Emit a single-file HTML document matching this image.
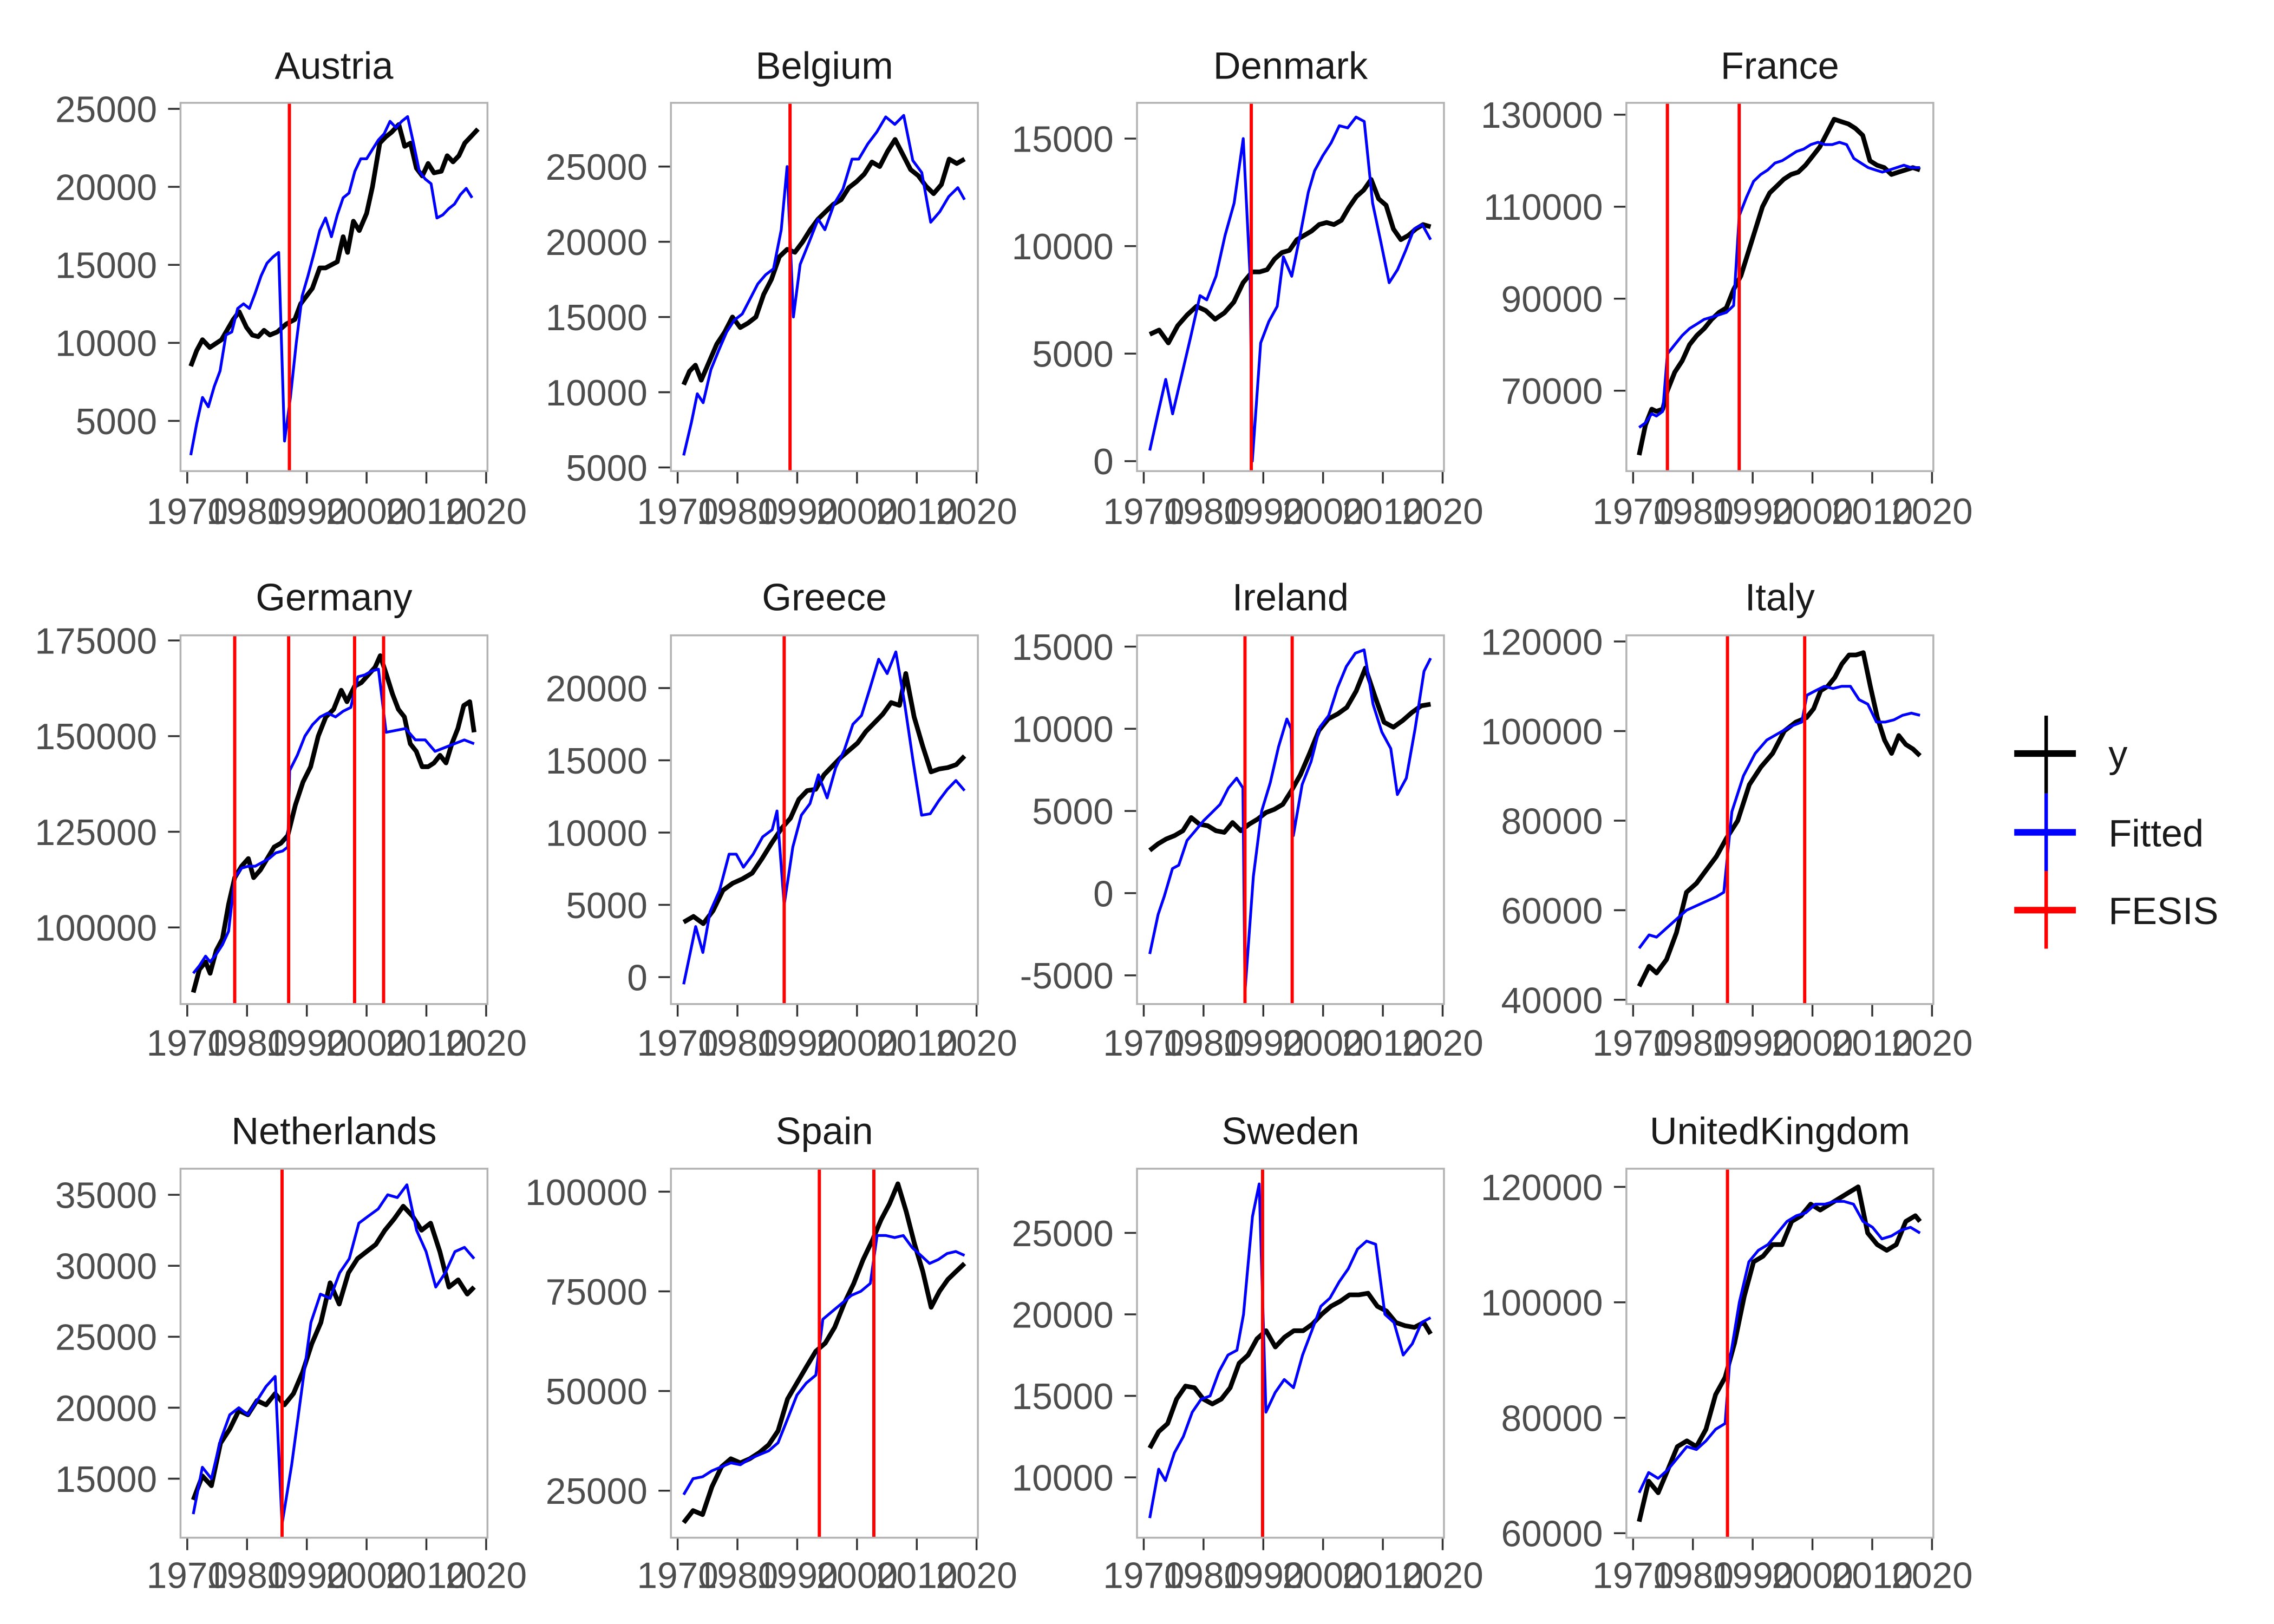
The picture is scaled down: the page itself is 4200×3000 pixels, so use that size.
<!DOCTYPE html>
<html><head><meta charset="utf-8"><style>
html,body{margin:0;padding:0;background:#fff}
svg{display:block}
</style></head><body>
<svg id="c" xmlns="http://www.w3.org/2000/svg" width="4200" height="3000" viewBox="0 0 1552 1108.6" preserveAspectRatio="none"></svg>
<script>
var cols=[123.2,457.9,776,1110], W=209.5;
var rows=[[70.2,321.6,53.7,357.7],[433.7,685.4,416.7,720.6],[797.8,1049.7,781,1084]];
var P=[
{n:"Austria",c:0,r:0,t:[5000,25000,5000],m:[25000,74.3,5000,287.3],v:[74.3],a:[],
y:[[7,8500],[11,9500],[15,10200],[20,9700],[28,10200],[36,11500],[40,12000],[45,11000],[49,10500],[53,10400],[57,10800],[61,10500],[66,10700],[72,11200],[78,11500],[82,12500],[86,13000],[90,13500],[95,14800],[99,14800],[103,15000],[107,15200],[111,16800],[114,15800],[118,17800],[122,17200],[127,18300],[131,20000],[136,22800],[140,23200],[144,23500],[149,24000],[153,22600],[157,22800],[161,21200],[165,20700],[169,21500],[173,20900],[178,21000],[182,22000],[186,21600],[190,22000],[194,22800],[199,23300],[203,23700]],
f:[[7,2800],[11,4800],[15,6500],[19,5900],[23,7200],[27,8200],[31,10500],[35,10700],[39,12200],[43,12500],[47,12200],[51,13200],[55,14300],[59,15100],[63,15500],[67,15800],[71,3700],[75,6500],[79,10000],[83,13000],[87,14300],[91,15700],[95,17200],[99,18000],[103,16800],[107,18200],[111,19300],[115,19600],[119,21000],[123,21800],[127,21800],[131,22400],[135,23000],[139,23400],[143,24200],[147,23800],[151,24200],[155,24500],[159,22800],[163,21000],[167,20500],[171,20200],[175,18000],[179,18200],[183,18600],[187,18900],[191,19500],[195,19900],[199,19300]]},
{n:"Belgium",c:1,r:0,t:[5000,25000,5000],m:[25000,113.7,5000,319.1],v:[81.3],a:[[61.5,81.3]],
y:[[7,10500],[10,11400],[13,11800],[16,10800],[20,12000],[24,13200],[28,14000],[32,15000],[36,14300],[40,14600],[44,15000],[48,16500],[52,17500],[56,19000],[60,19500],[64,19300],[68,20000],[72,20800],[76,21500],[80,22000],[84,22500],[88,22800],[92,23600],[96,24000],[100,24500],[104,25300],[108,25000],[112,26000],[116,26800],[120,25800],[124,24800],[128,24400],[132,23700],[136,23200],[140,23800],[144,25500],[148,25200],[152,25500]],
f:[[7,5800],[11,8000],[14,9900],[17,9300],[21,11500],[25,12800],[29,14000],[33,14800],[37,15200],[41,16200],[45,17200],[49,17800],[53,18200],[57,20800],[60,25000],[63,15000],[66,18500],[70,20000],[74,21500],[77,20800],[81,22500],[85,23500],[89,25500],[92,25500],[96,26500],[100,27300],[104,28300],[108,27800],[112,28400],[116,25400],[120,24600],[124,21300],[128,22000],[132,23000],[136,23600],[139,22800]]},
{n:"Denmark",c:2,r:0,t:[0,15000,5000],m:[15000,94.6,0,314.8],v:[78],a:[[51.5,78]],
y:[[8,5900],[12,6100],[16,5500],[20,6300],[24,6800],[28,7200],[32,7000],[36,6600],[40,6900],[44,7400],[48,8300],[52,8800],[56,8800],[60,8900],[64,9400],[68,9700],[72,9800],[76,10300],[80,10500],[84,10700],[88,11000],[92,11100],[96,11000],[100,11200],[104,11800],[108,12300],[112,12600],[116,13100],[120,12200],[124,11900],[128,10800],[132,10300],[136,10500],[140,10800],[144,11000],[148,10900]],
f:[[7,500],[11,2400],[14,3800],[17,2200],[21,4000],[25,5800],[29,7700],[32,7500],[36,8600],[40,10500],[44,12000],[48,15000],[51,8600],[52,0],[56,5500],[60,6500],[64,7200],[67,9500],[71,8600],[75,10500],[79,12500],[82,13500],[86,14200],[90,14800],[94,15600],[98,15500],[102,16000],[106,15800],[110,12000],[114,10200],[118,8300],[122,8900],[126,9800],[130,10800],[134,11000],[138,10300]]},
{n:"France",c:3,r:0,t:[70000,130000,20000],m:[130000,78.3,70000,266.7],v:[28,77],a:[[25,28],[64,77]],
y:[[7,56000],[11,62500],[15,66000],[18,65500],[22,66000],[25,70000],[29,74000],[33,76500],[37,80000],[41,82000],[45,83500],[49,85500],[53,87000],[57,88000],[61,92000],[65,95000],[69,100000],[73,105000],[77,110000],[81,113000],[85,114500],[89,116000],[93,117000],[97,117500],[101,119000],[105,121000],[109,123000],[113,126000],[117,129000],[121,128500],[125,128000],[129,127000],[133,125500],[137,120000],[141,119000],[145,118500],[149,117000],[153,117500],[157,118000],[161,118500],[165,118000]],
f:[[7,62000],[11,63000],[15,65000],[18,64500],[22,65500],[25,78000],[29,80000],[33,82000],[37,83500],[41,84500],[45,85500],[49,86000],[53,86500],[57,87000],[61,88500],[64,108000],[68,112000],[72,115500],[76,117000],[80,118000],[84,119500],[88,120000],[92,121000],[96,122000],[100,122500],[104,123500],[108,124000],[112,123500],[116,123500],[120,124000],[124,123500],[128,120500],[132,119500],[136,118500],[140,118000],[144,117500],[148,118000],[152,118500],[156,119000],[160,118500],[165,118500]]},
{n:"Germany",c:0,r:1,t:[100000,175000,25000],m:[175000,437.2,100000,633.1],v:[37,73.8,118.8,138.6],a:[[35,37],[66.5,73.8],[101,118.8],[118,138.6]],
y:[[8,83000],[12,89000],[16,91000],[19,88000],[23,94000],[27,97000],[31,106000],[35,113000],[39,116000],[43,118000],[46,113000],[50,115000],[54,118000],[58,121000],[62,122000],[66,124000],[70,132000],[74,138000],[78,142000],[82,150000],[86,155000],[90,157000],[94,162000],[97,159000],[101,163000],[105,164000],[109,166000],[113,168000],[116,171000],[120,166000],[124,161000],[128,157000],[132,155000],[136,148000],[140,146000],[144,142000],[148,142000],[152,143000],[156,145000],[160,143000],[164,148000],[168,152000],[172,158000],[176,159000],[179,151000]],
f:[[8,88000],[12,90000],[16,92500],[19,91000],[23,93000],[27,95500],[31,99000],[35,113000],[39,115500],[43,116000],[47,116000],[51,117000],[55,118000],[59,119500],[63,120000],[66,121000],[67,141000],[71,145000],[75,150000],[79,153000],[83,155000],[87,156000],[91,155000],[95,156500],[99,157500],[103,165500],[107,166000],[111,167000],[115,167500],[119,151000],[123,151500],[127,152000],[131,149000],[135,149000],[139,146000],[143,147000],[147,148000],[151,149000],[155,148000]]},
{n:"Greece",c:1,r:1,t:[0,20000,5000],m:[20000,469.7,0,667],v:[77.3],a:[[48,77.3]],
y:[[7,3800],[11,4200],[15,3700],[19,4600],[23,6000],[27,6500],[31,6800],[35,7200],[39,8200],[43,9300],[47,10300],[51,11000],[55,12300],[59,12900],[63,13000],[67,14000],[71,14600],[75,15200],[79,15700],[83,16200],[87,17000],[91,17600],[95,18200],[99,19000],[103,18800],[106,21000],[110,18000],[114,16000],[118,14200],[122,14400],[126,14500],[130,14700],[134,15300]],
f:[[6,-500],[11,3500],[14,1700],[17,4500],[21,6000],[25,8500],[28,8500],[31,7600],[35,8500],[39,9700],[43,10200],[45,11500],[48,5000],[52,9000],[56,11200],[60,12000],[64,14000],[68,12400],[72,14500],[76,15700],[80,17500],[84,18100],[88,20000],[92,22000],[96,21000],[100,22500],[104,19000],[108,15000],[112,11200],[116,11300],[120,12200],[124,13000],[128,13600],[132,12900]]},
{n:"Ireland",c:2,r:1,t:[-5000,15000,5000],m:[15000,441.4,-5000,665.8],v:[73.7,105.9],a:[[54,73.7],[76.5,105.9]],
y:[[8,2600],[12,3000],[16,3300],[20,3500],[24,3800],[28,4600],[32,4200],[36,4100],[40,3800],[44,3700],[48,4300],[52,3800],[56,4200],[60,4500],[64,4900],[68,5100],[72,5400],[76,6200],[80,7200],[84,8500],[88,9900],[92,10600],[96,10900],[100,11300],[104,12300],[108,13700],[112,12000],[116,10400],[120,10100],[124,10500],[128,11000],[132,11400],[136,11500]],
f:[[8,-3700],[12,-1300],[15,-200],[19,1500],[22,1700],[26,3200],[30,3800],[34,4400],[38,4900],[42,5400],[46,6400],[50,7000],[53,6400],[54,-6000],[58,1000],[62,5000],[66,6700],[70,8900],[74,10600],[76,10000],[77,3500],[81,6600],[85,8000],[89,10100],[93,10800],[97,12500],[101,13800],[105,14600],[109,14800],[113,11500],[117,9800],[121,8800],[124,6000],[128,7000],[132,10000],[136,13500],[139,14300]]},
{n:"Italy",c:3,r:1,t:[40000,120000,20000],m:[120000,437.9,40000,682.5],v:[69,121.7],a:[[42.5,69],[69,121.7]],
y:[[7,43000],[11,47500],[14,46000],[18,49000],[22,55000],[26,64000],[30,66000],[34,69000],[38,72000],[42,76000],[46,80000],[50,88000],[54,92000],[58,95000],[62,100000],[66,102000],[70,103000],[74,105000],[78,109000],[82,110000],[86,112000],[90,115000],[94,117000],[98,117000],[102,117500],[106,110000],[110,103000],[114,98000],[118,95000],[122,99000],[126,97000],[130,96000],[134,94500]],
f:[[7,51500],[11,54500],[14,54000],[18,56000],[22,58000],[26,60000],[30,61000],[34,62000],[38,63000],[41,64000],[44,82000],[48,90000],[52,95000],[56,98000],[60,99500],[64,101000],[68,102000],[70,108000],[74,109000],[78,110000],[82,109500],[86,110000],[90,110000],[94,107000],[98,106000],[102,102000],[106,102000],[110,102500],[114,103500],[118,104000],[122,103500]]},
{n:"Netherlands",c:0,r:2,t:[15000,35000,5000],m:[35000,815.6,15000,1009.4],v:[69.3],a:[[46,69.3]],
y:[[7,13500],[11,15200],[15,14500],[19,17500],[23,18500],[27,19800],[31,19500],[35,20500],[39,20200],[43,21000],[47,20200],[51,21000],[55,22500],[59,24500],[63,26000],[67,28800],[71,27300],[75,29500],[79,30500],[83,31000],[87,31500],[91,32500],[95,33300],[99,34200],[103,33500],[107,32500],[111,33000],[115,31000],[119,28500],[123,29000],[127,28000],[130,28500]],
f:[[7,12500],[11,15800],[15,15000],[19,17700],[23,19500],[27,20000],[31,19500],[35,20500],[39,21500],[43,22200],[46,11800],[50,16000],[54,21000],[58,26000],[62,28000],[66,27700],[70,29500],[74,30500],[78,33000],[82,33500],[86,34000],[90,35000],[94,34800],[98,35700],[102,32500],[106,31000],[110,28500],[114,29500],[118,31000],[122,31300],[126,30500]]},
{n:"Spain",c:1,r:2,t:[25000,100000,25000],m:[100000,813.5,25000,1017.6],v:[101.3,138.5],a:[[64.5,101.3],[87.5,138.5]],
y:[[7,17000],[11,20000],[15,19000],[19,26000],[23,31000],[27,33000],[31,32000],[35,33000],[39,34500],[43,36500],[47,40000],[51,48000],[55,52000],[59,56000],[63,60000],[67,62000],[71,66000],[75,72000],[79,77000],[83,83000],[87,88000],[91,93000],[95,97000],[99,102000],[103,95000],[107,87000],[111,80000],[115,71000],[119,75000],[123,78000],[127,80000],[131,82000]],
f:[[7,24000],[11,28000],[15,28500],[19,30000],[23,31000],[27,32000],[31,31500],[35,33000],[39,34000],[43,35000],[47,37000],[51,43000],[55,49000],[59,52000],[63,54000],[66,68000],[70,70000],[74,72000],[78,74000],[82,75000],[86,77000],[89,89000],[93,89000],[97,88500],[101,89000],[105,86000],[109,84000],[113,82000],[117,83000],[121,84500],[125,85000],[129,84000]]},
{n:"Sweden",c:2,r:2,t:[10000,25000,5000],m:[25000,841.6,10000,1008.5],v:[85.7],a:[[58.5,85.7]],
y:[[8,11800],[12,12800],[16,13300],[20,14800],[24,15600],[28,15500],[32,14800],[36,14500],[40,14800],[44,15500],[48,17000],[52,17500],[56,18500],[60,19000],[64,18000],[68,18600],[72,19000],[76,19000],[80,19400],[84,20000],[88,20500],[92,20800],[96,21200],[100,21200],[104,21300],[108,20500],[112,20200],[116,19500],[120,19300],[124,19200],[128,19500],[131,18800]],
f:[[8,7500],[12,10500],[15,9800],[19,11500],[23,12500],[27,14000],[31,14800],[35,15000],[39,16500],[43,17500],[47,17800],[50,20000],[54,26000],[57,28000],[60,14000],[64,15200],[68,16000],[72,15500],[76,17500],[80,19000],[84,20500],[88,21000],[92,22000],[96,22800],[100,24000],[104,24500],[108,24300],[112,20000],[116,19500],[120,17500],[124,18200],[128,19500],[132,19800]]},
{n:"UnitedKingdom",c:3,r:2,t:[60000,120000,20000],m:[120000,810.2,60000,1046.6],v:[69],a:[[44,69]],
y:[[7,62000],[11,69000],[15,67000],[19,71000],[23,75000],[27,76000],[31,75000],[35,78000],[39,84000],[43,87000],[47,93000],[51,101000],[55,107000],[59,108000],[63,110000],[67,110000],[71,114000],[75,115000],[79,117000],[83,116000],[87,117000],[91,118000],[95,119000],[99,120000],[103,112000],[107,110000],[111,109000],[115,110000],[119,114000],[123,115000],[125,114000]],
f:[[7,67000],[11,70500],[15,69500],[19,71000],[23,73000],[27,75000],[31,74500],[35,76000],[39,78000],[43,79000],[45,90000],[49,100000],[53,107000],[57,109000],[61,110000],[65,112000],[69,114000],[73,115000],[77,115500],[81,117000],[85,117000],[89,117500],[93,117500],[97,117000],[101,114000],[105,113000],[109,111000],[113,111500],[117,112500],[121,113000],[125,112000]]}
];
function remap(arr,anch){
 if(!anch.length) return arr;
 var last=arr[arr.length-1][0], first=arr[0][0];
 var k=[[first,8.7]].concat(anch).concat([[last,200.4]]);
 return arr.map(function(q){var d=q[0];
  for(var i=0;i<k.length-1;i++){ if(d<=k[i+1][0]||i==k.length-2){var a=k[i],b=k[i+1];return [a[1]+(d-a[0])*(b[1]-a[1])/(b[0]-a[0]),q[1]];}}
 });
}
var s='';
var FT='font-family="Liberation Sans, Arial, sans-serif"';
P.forEach(function(p,i){
 var L=cols[p.c],R=L+W,T=rows[p.r][0],B=rows[p.r][1];
 var m=p.m,k=(m[3]-m[1])/(m[2]-m[0]);
 function Y(v){return m[1]+(v-m[0])*k;}
 s+='<clipPath id="cp'+i+'"><rect x="'+L+'" y="'+T+'" width="'+W+'" height="'+(B-T)+'"/></clipPath>';
 s+='<text x="'+(L+W/2)+'" y="'+rows[p.r][2]+'" text-anchor="middle" font-size="26" fill="#1a1a1a" '+FT+'>'+p.n+'</text>';
 for(var v=p.t[0];v<=p.t[1];v+=p.t[2]){var y=Y(v);
  s+='<line x1="'+(L-8.5)+'" x2="'+L+'" y1="'+y+'" y2="'+y+'" stroke="#333" stroke-width="1.3"/>';
  s+='<text x="'+(L-16)+'" y="'+(y+9)+'" text-anchor="end" font-size="25" fill="#4d4d4d" '+FT+'>'+v+'</text>';}
 for(var yr=1970;yr<=2020;yr+=10){var x=L+4.6+(yr-1970)*4.08;
  s+='<line x1="'+x+'" x2="'+x+'" y1="'+B+'" y2="'+(B+8.5)+'" stroke="#333" stroke-width="1.3"/>';
  s+='<text x="'+x+'" y="'+rows[p.r][3]+'" text-anchor="middle" font-size="25" fill="#4d4d4d" '+FT+'>'+yr+'</text>';}
 function pl(a,col,w){return '<polyline clip-path="url(#cp'+i+')" fill="none" stroke="'+col+'" stroke-width="'+w+'" stroke-linejoin="round" points="'+a.map(function(q){return (L+q[0]).toFixed(1)+','+Y(q[1]).toFixed(1)}).join(' ')+'"/>';}
 s+=pl(remap(p.y,p.a),'#000',3.2);
 s+=pl(remap(p.f,p.a),'#0000ff',1.9);
 p.v.forEach(function(d){s+='<line x1="'+(L+d)+'" x2="'+(L+d)+'" y1="'+T+'" y2="'+B+'" stroke="#ff0000" stroke-width="2.2"/>';});
 s+='<rect x="'+L+'" y="'+T+'" width="'+W+'" height="'+(B-T)+'" fill="none" stroke="#b3b3b3" stroke-width="1.3"/>';
});
var lx1=1374.7,lx2=1416.8,lxc=1396.5;
s+='<line x1="'+lxc+'" x2="'+lxc+'" y1="488.5" y2="541.6" stroke="#000" stroke-width="2.4"/>';
s+='<line x1="'+lxc+'" x2="'+lxc+'" y1="541.6" y2="594.6" stroke="#0000ff" stroke-width="2.4"/>';
s+='<line x1="'+lxc+'" x2="'+lxc+'" y1="594.6" y2="647.6" stroke="#ff0000" stroke-width="2.4"/>';
[["y","#000",514.4],["Fitted","#0000ff",568.2],["FESIS","#ff0000",621.3]].forEach(function(e){
 s+='<line x1="'+lx1+'" x2="'+lx2+'" y1="'+e[2]+'" y2="'+e[2]+'" stroke="'+e[1]+'" stroke-width="4.5"/>';
 s+='<text x="1439" y="'+(e[2]+9.5)+'" font-size="26" fill="#1a1a1a" '+FT+'>'+e[0]+'</text>';
});
document.getElementById('c').innerHTML=s;
</script>
</body></html>
